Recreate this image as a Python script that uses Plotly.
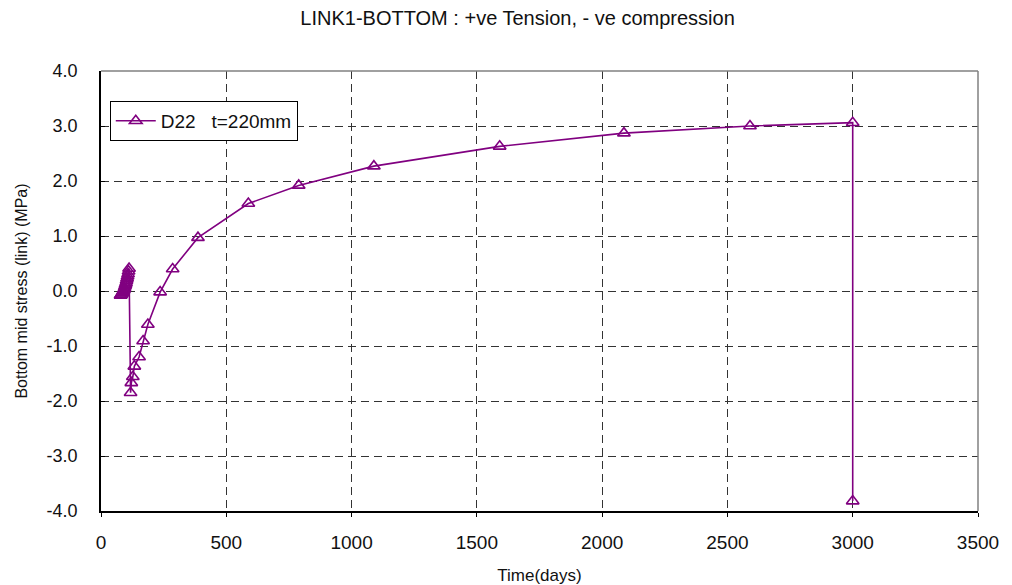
import plotly.graph_objects as go

# Time (days) and bottom mid stress (MPa)
days = [78, 80, 82, 84, 86, 88, 90, 92, 94, 96, 98, 100, 102, 104, 106, 108, 110, 112,
        118, 121, 127, 133, 152, 168, 187, 236, 286, 387, 588, 789, 1089, 1591, 2087, 2590, 3000, 3000]
stress = [-0.08, -0.07, -0.06, -0.04, -0.03, -0.01, 0.01, 0.03, 0.06, 0.09, 0.12, 0.15, 0.19, 0.23, 0.27, 0.31, 0.36, 0.41,
          -1.85, -1.67, -1.56, -1.37, -1.20, -0.91, -0.61, -0.02, 0.40, 0.97, 1.59, 1.92, 2.27, 2.63, 2.87, 3.00, 3.06, -3.82]
series_name = "D22   t=220mm"
title_text = "LINK1-BOTTOM : +ve Tension, - ve compression"
x_title = "Time(days)"
y_title = "Bottom mid stress (link) (MPa)"
x_ticks = [0, 500, 1000, 1500, 2000, 2500, 3000, 3500]
y_ticks = [-4, -3, -2, -1, 0, 1, 2, 3, 4]

FONT = "Liberation Sans, Arial, sans-serif"
PURPLE = "#800080"

fig = go.Figure()
fig.add_trace(go.Scatter(
    x=days, y=stress, mode="lines+markers", name=series_name,
    line=dict(color=PURPLE, width=1.6),
    marker=dict(symbol="triangle-up-open", size=11, color=PURPLE, line=dict(width=1.6, color=PURPLE)),
))

# The page body adds an 8px offset, so the figure is 1004x577 with left/top margins reduced by 8.
fig.update_layout(
    width=1004, height=577,
    margin=dict(l=93, r=34, t=63, b=74),
    paper_bgcolor="white", plot_bgcolor="white",
    font=dict(family=FONT, size=18, color="#111111"),
    title=dict(text=title_text, x=0.475, xanchor="center", xref="paper", y=0.983, yanchor="middle",
               font=dict(family=FONT, size=20, color="#111111")),
    showlegend=True,
    legend=dict(x=0.01, y=0.932, xanchor="left", yanchor="top",
                bgcolor="white", bordercolor="black", borderwidth=1,
                font=dict(family=FONT, size=19, color="#111111"),
                itemwidth=40),
    shapes=[dict(type="line", xref="paper", yref="paper", x0=0, x1=1, y0=1, y1=1,
                 line=dict(color="#808080", width=1.5)),
            dict(type="line", xref="paper", yref="paper", x0=1, x1=1, y0=0, y1=1,
                 line=dict(color="#808080", width=1.5))],
)

fig.update_xaxes(
    range=[0, 3500], tickvals=x_ticks, ticktext=[str(v) for v in x_ticks],
    showline=True, linecolor="black", linewidth=1.5,
    showgrid=True, gridcolor="#333333", gridwidth=1, griddash="8px,5px",
    zeroline=False, ticks="outside", ticklen=4, tickcolor="black",
    ticklabelstandoff=9, automargin=False,
    tickfont=dict(size=19), title=dict(text=x_title, font=dict(size=17), standoff=20),
)
fig.update_yaxes(
    range=[-4, 4], tickvals=y_ticks, ticktext=["%.1f" % v for v in y_ticks],
    showline=True, linecolor="black", linewidth=1.5,
    showgrid=True, gridcolor="#333333", gridwidth=1, griddash="8px,5px",
    zeroline=False, ticks="inside", ticklen=4, tickcolor="black",
    ticklabelstandoff=18, automargin=False,
    tickfont=dict(size=18), title=dict(text=y_title, font=dict(size=16), standoff=15),
)

fig.write_html("out.html")
